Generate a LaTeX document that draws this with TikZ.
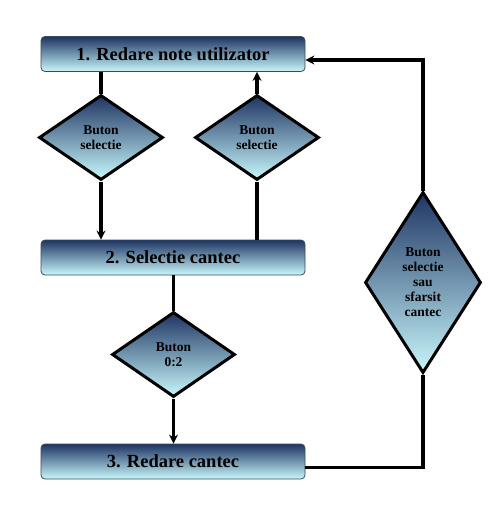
\documentclass[tikz,border=0pt]{standalone}
\usepackage{fontspec}
\setmainfont{Liberation Serif}
\usetikzlibrary{shapes.geometric,arrows.meta}
\definecolor{topc}{RGB}{30,52,98}
\definecolor{midc}{RGB}{115,150,175}
\definecolor{botc}{RGB}{200,248,252}
\definecolor{edgec}{RGB}{60,75,90}
\tikzset{
  procbox/.style={rectangle, rounded corners=4pt, draw=edgec, line width=0.8pt,
    minimum width=264pt, minimum height=35pt, inner sep=0pt,
    top color=topc, bottom color=botc, middle color=midc,
    font=\fontsize{18.5}{20}\selectfont\bfseries},
  decis/.style={diamond, draw=black, line width=3pt, inner sep=0pt, aspect=1,
    top color=topc, bottom color=botc, middle color=midc,
    align=center, font=\fontsize{13.5}{15}\selectfont\bfseries},
  conn/.style={line width=3.3pt, draw=black},
  arr/.style={conn, -{Stealth[length=9pt,width=9pt]}}
}
\begin{document}
\begin{tikzpicture}[x=1pt,y=-1pt]
\useasboundingbox (0,0) rectangle (502,507);
\fill[white] (0,0) rectangle (502,507);
% decisions
\node[decis, minimum width=124pt, minimum height=85pt] (d1) at (101,137.5) {Buton\\selectie};
\node[decis, minimum width=124pt, minimum height=85pt] (d2) at (257,137.5) {Buton\\selectie};
\node[decis, minimum width=123pt, minimum height=85pt] (d3) at (173.5,354.5) {Buton\\0:2};
\node[decis, minimum width=116pt, minimum height=181pt] (d4) at (423,282.5) {Buton\\selectie\\sau\\sfarsit\\cantec};
% boxes
\node[procbox] (b1) at (173,54) {1. Redare note utilizator};
\node[procbox] (b2) at (173,257.5) {2. Selectie cantec};
\node[procbox] (b3) at (173,461.5) {3. Redare cantec};
% connectors
\draw[conn] (d1.north |- b1.south) -- (d1.north);
\draw[arr] (d1.south) -- (d1.south |- b2.north);
\draw[conn] (d2.south |- b2.north) -- (d2.south);
\draw[arr] (d2.north) -- (d2.north |- b1.south);
\draw[conn] (d3.north |- b2.south) -- (d3.north);
\draw[arr] (d3.south) -- (d3.south |- b3.north);
\draw[conn] ([yshift=-6pt]b3.east) -| (d4.south);
\draw[arr] (d4.north) |- ([yshift=-6pt]b1.east);
\end{tikzpicture}
\end{document}
